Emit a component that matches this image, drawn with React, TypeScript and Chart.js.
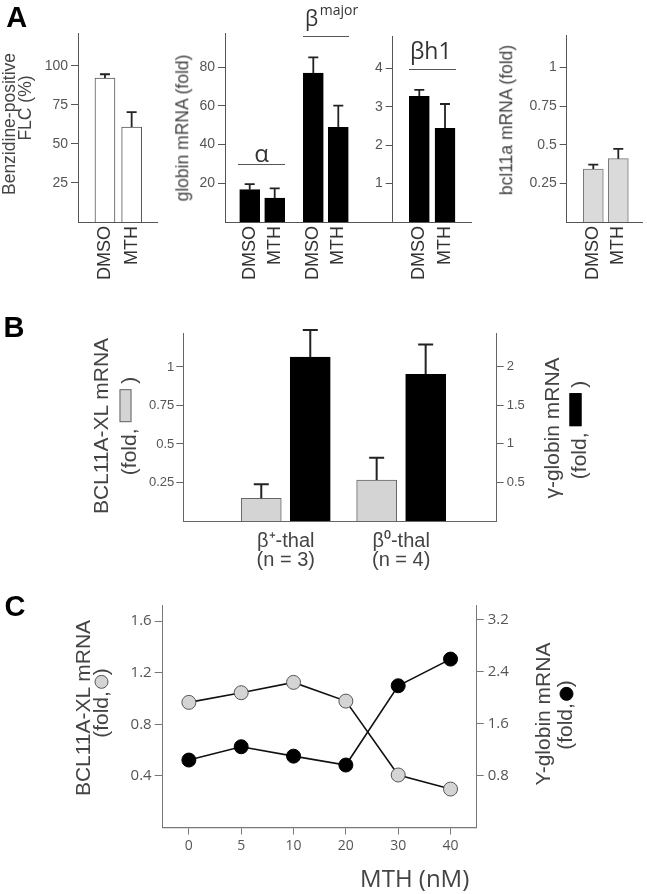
import React, { useEffect, useRef } from "react";
import { Chart, registerables } from "chart.js";

Chart.register(...registerables);

const PAGE_W = 647;
const PAGE_H = 894;

// ---------------- data ----------------
// Panel A
const aConditions = ["DMSO", "MTH"];
const benzidineValues = [92.2, 60.8];
const benzidineErrors = [2.4, 9.6];
const benzidineTicks = [25, 50, 75, 100];

const globinGroups = ["α", "βmajor"];
const globinValues = [16.7, 12.4, 77.0, 48.9]; // α DMSO, α MTH, βmajor DMSO, βmajor MTH
const globinErrors = [2.9, 5.0, 8.1, 11.2];
const globinTicks = [20, 40, 60, 80];

const bh1Values = [3.27, 2.44];
const bh1Errors = [0.17, 0.63];
const bh1Ticks = [1, 2, 3, 4];

const bcl11aValues = [0.343, 0.41];
const bcl11aErrors = [0.029, 0.063];
const bcl11aTicks = [0.25, 0.5, 0.75, 1];

// Panel B
const bGroups = [
  ["β⁺-thal", "(n = 3)"],
  ["β⁰-thal", "(n = 4)"],
];
const bBcl11aValues = [0.147, 0.266];
const bBcl11aErrors = [0.091, 0.145];
const bGammaValues = [2.127, 1.903];
const bGammaErrors = [0.35, 0.387];
const bLeftTicks = [0.25, 0.5, 0.75, 1];
const bRightTicks = [0.5, 1, 1.5, 2];

// Panel C
const cDoses = ["0", "5", "10", "20", "30", "40"];
const cBcl11aValues = [0.97, 1.045, 1.125, 0.98, 0.407, 0.298];
const cGammaValues = [1.04, 1.245, 1.1, 0.963, 2.185, 2.596];
const cLeftTicks = [0.4, 0.8, 1.2, 1.6];
const cRightTicks = [0.8, 1.6, 2.4, 3.2];

// ---------------- styling helpers ----------------
const LIB = "'Liberation Sans', Arial, Helvetica, sans-serif";
const OPEN = "'Open Sans', 'Liberation Sans', sans-serif";

type Frame = { left: number; top: number; right: number; bottom: number; yW: number; y1W: number; xH: number };

function layoutFor(f: Frame) {
  return {
    padding: {
      left: f.left - f.yW,
      top: f.top,
      right: PAGE_W - f.right - f.y1W,
      bottom: PAGE_H - f.bottom - f.xH,
    },
  };
}

const errorBars = {
  id: "errorBars",
  afterDatasetsDraw(chart: any) {
    const ctx = chart.ctx;
    chart.data.datasets.forEach((ds: any, di: number) => {
      if (!ds.errors) return;
      const meta = chart.getDatasetMeta(di);
      const ys = chart.scales[meta.yAxisID];
      ctx.save();
      ctx.strokeStyle = ds.errorColor || "#222";
      ctx.lineWidth = ds.errorLineWidth || 1.5;
      meta.data.forEach((el: any, i: number) => {
        const raw = ds.data[i];
        const v = typeof raw === "number" ? raw : raw.y;
        const yTop = ys.getPixelForValue(v + ds.errors[i]);
        const half = (ds.errorCap || 10) / 2;
        ctx.beginPath();
        ctx.moveTo(el.x, el.y);
        ctx.lineTo(el.x, yTop);
        ctx.moveTo(el.x - half, yTop);
        ctx.lineTo(el.x + half, yTop);
        ctx.stroke();
      });
      ctx.restore();
    });
  },
};

function yAxis(o: {
  min: number;
  max: number;
  ticks: number[];
  position: "left" | "right";
  width: number;
  font: any;
  color?: string;
  axisColor?: string;
  tickLength?: number;
  padding?: number;
}) {
  return {
    type: "linear",
    position: o.position,
    min: o.min,
    max: o.max,
    afterBuildTicks: (s: any) => {
      s.ticks = o.ticks.map((v) => ({ value: v }));
    },
    afterFit: (s: any) => {
      s.width = o.width;
    },
    ticks: {
      font: o.font,
      color: o.color || "#555",
      padding: o.padding ?? 3,
      callback: (v: any) => String(v),
    },
    grid: {
      display: true,
      drawOnChartArea: false,
      drawTicks: true,
      tickLength: o.tickLength ?? 7,
      color: o.axisColor || "#555",
      lineWidth: 1,
    },
    border: { display: true, color: o.axisColor || "#555", width: 1 },
  };
}

function barXAxis(min: number, max: number, positions: number[], labels: any[], xH: number, extra: any = {}) {
  return {
    type: "linear",
    min,
    max,
    offset: false,
    afterBuildTicks: (s: any) => {
      s.ticks = positions.map((v) => ({ value: v }));
    },
    afterFit: (s: any) => {
      s.height = xH;
    },
    ticks: {
      autoSkip: false,
      minRotation: 90,
      maxRotation: 90,
      padding: 4,
      color: "#333",
      font: { family: LIB, size: 18 },
      callback: (_v: any, i: number) => labels[i],
      ...(extra.ticks || {}),
    },
    grid: { display: true, drawOnChartArea: false, drawTicks: false, offset: false },
    border: { display: true, color: extra.axisColor || "#555", width: 1 },
  };
}

const baseOptions = {
  animation: false,
  responsive: false,
  events: [],
  plugins: { legend: { display: false }, tooltip: { enabled: false } },
};

const aTickFont = { family: LIB, size: 14 };

// ---------------- chart configs ----------------
function benzidineConfig() {
  const xs = aConditions.map((_, i) => i);
  return {
    type: "bar",
    data: {
      datasets: [
        {
          data: xs.map((x, i) => ({ x, y: benzidineValues[i] })),
          errors: benzidineErrors,
          backgroundColor: "#ffffff",
          borderColor: "#555",
          borderWidth: 1,
          barThickness: 20,
          errorCap: 10,
          errorLineWidth: 1.8,
        },
      ],
    },
    options: {
      ...baseOptions,
      layout: layoutFor({ left: 78, top: 33.3, right: 157, bottom: 222, yW: 60, y1W: 0, xH: 80 }),
      scales: {
        x: barXAxis(-1.01, 1.95, xs, aConditions, 80),
        y: yAxis({ min: 0, max: 120.8, ticks: benzidineTicks, position: "left", width: 60, font: aTickFont }),
      },
    },
    plugins: [errorBars],
  };
}

function globinConfig() {
  const xs = globinValues.map((_, i) => Math.floor(i / 2) + ((i % 2) - 0.5) * 0.393);
  const labels = globinValues.map((_, i) => aConditions[i % 2]);
  return {
    type: "bar",
    data: {
      datasets: [
        {
          data: xs.map((x, i) => ({ x, y: globinValues[i] })),
          errors: globinErrors,
          backgroundColor: "#000",
          borderColor: "#000",
          borderWidth: 1,
          barThickness: 20,
          errorCap: 10,
          errorLineWidth: 1.8,
        },
      ],
    },
    options: {
      ...baseOptions,
      layout: layoutFor({ left: 225, top: 33.3, right: 392.7, bottom: 222, yW: 60, y1W: 0, xH: 80 }),
      scales: {
        x: barXAxis(-0.585, 2.052, xs, labels, 80),
        y: yAxis({ min: 0, max: 97.5, ticks: globinTicks, position: "left", width: 60, font: aTickFont }),
      },
    },
    plugins: [errorBars],
  };
}

function bh1Config() {
  const xs = aConditions.map((_, i) => i);
  return {
    type: "bar",
    data: {
      datasets: [
        {
          data: xs.map((x, i) => ({ x, y: bh1Values[i] })),
          errors: bh1Errors,
          backgroundColor: "#000",
          borderColor: "#000",
          borderWidth: 1,
          barThickness: 20,
          errorCap: 10,
          errorLineWidth: 1.8,
        },
      ],
    },
    options: {
      ...baseOptions,
      layout: layoutFor({ left: 392.7, top: 36, right: 472, bottom: 222, yW: 30, y1W: 0, xH: 80 }),
      scales: {
        x: barXAxis(-1.035, 2.05, xs, aConditions, 80),
        y: yAxis({ min: 0, max: 4.84, ticks: bh1Ticks, position: "left", width: 30, font: aTickFont }),
      },
    },
    plugins: [errorBars],
  };
}

function bcl11aConfig() {
  const xs = aConditions.map((_, i) => i);
  return {
    type: "bar",
    data: {
      datasets: [
        {
          data: xs.map((x, i) => ({ x, y: bcl11aValues[i] })),
          errors: bcl11aErrors,
          backgroundColor: "#dadada",
          borderColor: "#777",
          borderWidth: 1,
          barThickness: 20,
          errorCap: 10,
          errorLineWidth: 1.8,
        },
      ],
    },
    options: {
      ...baseOptions,
      layout: layoutFor({ left: 566.7, top: 35, right: 642.7, bottom: 222, yW: 50, y1W: 0, xH: 80 }),
      scales: {
        x: barXAxis(-1.064, 1.976, xs, aConditions, 80),
        y: yAxis({ min: 0, max: 1.211, ticks: bcl11aTicks, position: "left", width: 50, font: aTickFont }),
      },
    },
    plugins: [errorBars],
  };
}

function panelBConfig() {
  const xs = bGroups.map((_, i) => i);
  const bFont = { family: LIB, size: 13 };
  return {
    type: "bar",
    data: {
      datasets: [
        {
          data: xs.map((x, i) => ({ x, y: bBcl11aValues[i] })),
          yAxisID: "y",
          errors: bBcl11aErrors,
          backgroundColor: "#d4d4d4",
          borderColor: "#666",
          borderWidth: 1,
          barThickness: 49,
          maxBarThickness: 40,
          errorCap: 15,
          errorLineWidth: 2,
        },
        {
          data: xs.map((x, i) => ({ x, y: bGammaValues[i] })),
          yAxisID: "y1",
          errors: bGammaErrors,
          backgroundColor: "#000",
          borderColor: "#000",
          borderWidth: 1,
          barThickness: 49,
          maxBarThickness: 40,
          errorCap: 15,
          errorLineWidth: 2,
        },
      ],
    },
    options: {
      ...baseOptions,
      layout: layoutFor({ left: 183.3, top: 333.5, right: 496.7, bottom: 521, yW: 60, y1W: 60, xH: 70 }),
      scales: {
        x: barXAxis(-0.888, 1.828, xs, bGroups, 70, {
          axisColor: "#666",
          ticks: {
            minRotation: 0,
            maxRotation: 0,
            padding: 11,
            color: "#444",
            font: { family: LIB, size: 20, lineHeight: 0.95 },
          },
        }),
        y: yAxis({
          min: 0,
          max: 1.2175,
          ticks: bLeftTicks,
          position: "left",
          width: 60,
          font: bFont,
          axisColor: "#666",
          tickLength: 7,
          padding: 2,
        }),
        y1: yAxis({
          min: 0,
          max: 2.432,
          ticks: bRightTicks,
          position: "right",
          width: 60,
          font: bFont,
          axisColor: "#666",
          tickLength: 7,
          padding: 3,
        }),
      },
    },
    plugins: [errorBars],
  };
}

function panelCConfig() {
  return {
    type: "line",
    data: {
      labels: cDoses,
      datasets: [
        {
          data: cBcl11aValues,
          yAxisID: "y",
          borderColor: "#111",
          borderWidth: 1.6,
          pointRadius: 7,
          pointBackgroundColor: "#d4d4d4",
          pointBorderColor: "#555",
          pointBorderWidth: 1,
          tension: 0,
        },
        {
          data: cGammaValues,
          yAxisID: "y1",
          borderColor: "#111",
          borderWidth: 1.6,
          pointRadius: 7,
          pointBackgroundColor: "#000",
          pointBorderColor: "#000",
          pointBorderWidth: 1,
          tension: 0,
        },
      ],
    },
    options: {
      ...baseOptions,
      layout: layoutFor({ left: 162.7, top: 605, right: 476.7, bottom: 827.5, yW: 60, y1W: 60, xH: 40 }),
      scales: {
        x: {
          type: "category",
          offset: true,
          afterFit: (s: any) => {
            s.height = 40;
          },
          ticks: { color: "#555", padding: 3, font: { family: OPEN, size: 14 } },
          grid: { display: true, drawOnChartArea: false, drawTicks: true, tickLength: 7, color: "#777", offset: false },
          border: { display: true, color: "#777", width: 1.3 },
        },
        y: yAxis({
          min: 0,
          max: 1.725,
          ticks: cLeftTicks,
          position: "left",
          width: 60,
          font: { family: OPEN, size: 15 },
          axisColor: "#777",
          tickLength: 8,
          padding: 3,
        }),
        y1: yAxis({
          min: 0,
          max: 3.43,
          ticks: cRightTicks,
          position: "right",
          width: 60,
          font: { family: OPEN, size: 15 },
          axisColor: "#777",
          tickLength: 7,
          padding: 4,
        }),
      },
    },
  };
}

// ---------------- components ----------------
function ChartLayer({ make }: { make: () => any }) {
  const ref = useRef<HTMLCanvasElement>(null);
  useEffect(() => {
    const chart = new Chart(ref.current as HTMLCanvasElement, make());
    return () => chart.destroy();
  }, []);
  return (
    <canvas
      ref={ref}
      width={PAGE_W}
      height={PAGE_H}
      style={{ position: "absolute", left: 0, top: 0, width: PAGE_W, height: PAGE_H }}
    />
  );
}

type TProps = {
  x: number;
  y: number;
  size: number;
  children: any;
  family?: string;
  color?: string;
  weight?: string | number;
  rotate?: boolean;
};

function T({ x, y, size, children, family = LIB, color = "#444", weight = "normal", rotate = false }: TProps) {
  return (
    <div
      style={{
        position: "absolute",
        left: x,
        top: y,
        transform: rotate ? "translate(-50%, -50%) rotate(-90deg)" : "translate(-50%, -50%)",
        fontFamily: family,
        fontSize: size,
        lineHeight: 1,
        color,
        fontWeight: weight as any,
        whiteSpace: "nowrap",
      }}
    >
      {children}
    </div>
  );
}

function HLine({ x1, x2, y }: { x1: number; x2: number; y: number }) {
  return (
    <div
      style={{
        position: "absolute",
        left: x1,
        top: y - 0.75,
        width: x2 - x1,
        height: 0,
        borderTop: "1.5px solid #555",
      }}
    />
  );
}

const swatchBox = (fill: string, border: string) => (
  <span
    style={{
      display: "inline-block",
      width: 33,
      height: 12,
      background: fill,
      border: `1px solid ${border}`,
      boxSizing: "border-box",
      verticalAlign: "baseline",
      marginBottom: 4,
    }}
  />
);

const swatchDot = (fill: string, border: string, lift: number) => (
  <span
    style={{
      display: "inline-block",
      width: 14,
      height: 14,
      borderRadius: "50%",
      background: fill,
      border: `1px solid ${border}`,
      boxSizing: "border-box",
      verticalAlign: "baseline",
      marginBottom: lift,
      marginLeft: 2,
    }}
  />
);

export default function App() {
  return (
    <div
      style={{
        position: "absolute",
        left: 0,
        top: 0,
        width: PAGE_W,
        height: PAGE_H,
        background: "#fff",
        overflow: "hidden",
      }}
    >
      <ChartLayer make={benzidineConfig} />
      <ChartLayer make={globinConfig} />
      <ChartLayer make={bh1Config} />
      <ChartLayer make={bcl11aConfig} />
      <ChartLayer make={panelBConfig} />
      <ChartLayer make={panelCConfig} />

      {/* panel letters */}
      <T x={16.7} y={16.7} size={29} weight="bold" color="#000">A</T>
      <T x={14} y={326.7} size={29} weight="bold" color="#000">B</T>
      <T x={15} y={606} size={29} weight="bold" color="#000">C</T>

      {/* Panel A titles */}
      <T x={10.2} y={123.5} size={17.5} rotate>Benzidine-positive</T>
      <T x={25.8} y={108} size={17.5} rotate>FLC (%)</T>
      <T x={183} y={128} size={17.5} rotate>globin mRNA (fold)</T>
      <T x={507} y={120} size={17.5} rotate>bcl11a mRNA (fold)</T>

      {/* Panel A group labels */}
      <T x={261.5} y={153} size={24} family={OPEN} color="#333">{globinGroups[0]}</T>
      <HLine x1={238} x2={285} y={164.3} />
      <T x={311.5} y={17.5} size={21} family={OPEN} color="#333">β</T>
      <T x={339} y={9.5} size={14} family={OPEN} color="#333">major</T>
      <HLine x1={303} x2={349} y={37} />
      <T x={430.8} y={50.4} size={23} family={OPEN} color="#333">βh1</T>
      <HLine x1={409} x2={456} y={70} />

      {/* Panel B titles */}
      <T x={100} y={425.8} size={21} rotate>BCL11A-XL mRNA</T>
      <T x={127.7} y={425.9} size={21} rotate>
        (fold, {swatchBox("#d4d4d4", "#666")} )
      </T>
      <T x={550.5} y={428.3} size={21} rotate>γ-globin mRNA</T>
      <T x={577.7} y={430} size={21} rotate>
        (fold,{" "}{swatchBox("#000", "#000")} )
      </T>

      {/* Panel C titles */}
      <T x={81.7} y={708.3} size={21} rotate>BCL11A-XL mRNA</T>
      <T x={100.2} y={703.4} size={21} rotate>
        (fold,{swatchDot("#d4d4d4", "#555", -1)})
      </T>
      <T x={542} y={714} size={21} rotate>Y-globin mRNA</T>
      <T x={563.7} y={715} size={21} rotate>
        (fold,{swatchDot("#000", "#000", -2)})
      </T>
      <T x={414.7} y={878} size={24} family={OPEN} color="#444">MTH (nM)</T>
    </div>
  );
}
